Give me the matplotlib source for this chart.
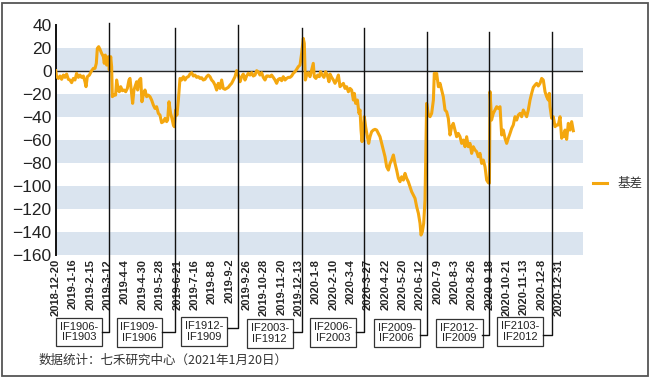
import matplotlib
matplotlib.use("Agg")
import matplotlib.pyplot as plt
import matplotlib.transforms as mtransforms
from matplotlib.patches import Rectangle
from matplotlib.lines import Line2D

plt.rcParams['font.family'] = ['Liberation Sans', 'Noto Sans CJK SC', 'DejaVu Sans']

# ---------------- data ----------------
# trading-day index (0 = 2018-12-20) and basis value
day_idx = [0, 0.9, 2.6, 4.2, 5.8, 7.5, 9.1, 10.7, 12.4, 14.0, 15.6, 17.3, 18.9, 20.5, 22.2, 23.8,
           25.4, 27.1, 28.7, 29.7, 31.0, 33.0, 35.2, 36.9, 38.5, 39.8, 40.8, 42.1, 43.4, 45.0, 46.7,
           47.6, 48.6, 49.9, 51.6, 52.5, 53.9, 54.8, 55.5, 57.1, 58.7, 59.7, 61.4, 62.3, 63.7, 65.3,
           66.9, 68.6, 70.2, 71.8, 72.8, 73.8, 75.4, 76.7, 77.7, 79.3, 80.3, 81.9, 83.3, 84.5, 85.8,
           87.5, 89.1, 90.7, 92.4, 94.0, 95.7, 97.3, 98.9, 100.6, 102.2, 103.8, 105.5, 107.1, 108.7,
           109.7, 111.0, 112.6, 113.9, 115.3, 116.2, 117.5, 118.8, 120.2, 121.8, 123.4, 125.1, 126.7,
           128.3, 130.0, 131.6, 133.2, 134.9, 136.5, 138.1, 139.8, 141.4, 143.0, 144.6, 146.3, 147.9,
           149.5, 151.2, 152.8, 154.4, 156.1, 157.7, 159.3, 161.0, 162.6, 164.2, 165.9, 167.5, 169.1,
           170.8, 172.4, 174.1, 175.7, 177.3, 179.0, 180.6, 182.2, 183.8, 185.5, 187.1, 188.7, 190.4,
           192.0, 193.6, 195.3, 196.9, 198.5, 200.2, 201.8, 203.4, 205.1, 206.7, 208.3, 210.0, 211.6,
           213.2, 214.9, 216.5, 218.1, 219.8, 221.4, 223.0, 224.7, 226.3, 227.9, 229.6, 231.2, 232.8,
           234.5, 236.1, 237.7, 239.4, 241.0, 242.6, 243.6, 244.6, 245.9, 247.5, 249.2, 250.8, 252.4,
           253.4, 255.0, 256.7, 258.3, 259.6, 261.2, 262.9, 264.5, 266.1, 267.8,
           268.8, 270.4, 272.1, 273.7, 275.3, 277.0, 278.6, 280.2, 281.9, 283.5, 285.1, 286.8, 288.4,
           290.0, 291.7, 292.6, 293.9, 295.6, 297.2, 298.2, 299.2, 300.2, 301.5, 302.4, 303.7, 305.4,
           306.7, 308.0, 309.6, 311.3, 312.9, 314.5, 316.2, 317.8, 319.4, 321.1, 322.7, 324.3, 326.0,
           327.6, 329.2, 330.9, 332.5, 334.1, 335.8, 337.4, 339.0, 340.7, 342.3, 343.9, 345.5,
           347.2, 348.8, 350.5, 352.1, 353.7, 355.4, 357.0, 358.0, 359.3, 360.6, 361.9, 362.9, 363.5,
           365.2, 366.8, 368.4, 370.1, 371.0, 372.3, 373.3, 375.0,
           376.6, 378.2, 379.8, 381.5, 383.1, 384.7, 386.4, 388.0, 389.6, 391.3, 392.9, 394.5, 396.2,
           397.8, 399.4, 401.1, 402.7, 404.3, 406.0, 407.6, 409.2, 410.9, 412.5, 414.1, 415.8, 417.4,
           419.0, 420.7, 422.3, 423.9, 425.0, 425.6, 427.1, 428.8, 430.5, 432.1, 433.7, 435.4, 436.3,
           437.0, 438.6, 440.3, 441.9, 443.5, 445.2, 446.8, 448.4, 450.1, 451.7, 453.3, 455.0, 456.6,
           458.2, 459.9, 461.5, 463.1, 464.8, 466.4, 468.0, 469.7, 471.3, 472.9, 474.6, 476.2, 477.8,
           479.5, 481.1, 482.7, 483.7, 484.4, 486.0, 487.6, 489.3, 490.9, 492.5, 494.2, 495.8, 496.8,
           498.1, 499.1, 500.7, 502.3, 504.0, 505.6, 507.2]
basis = [0, -5.2, -6.7, -4.6, -7.5, -3.8, -5.8, -2.9, -7.5, -8.1, -10.4, -6.7, -8.1, -2.3, -5.8, -3.8,
         -5.8, -4.6, -9.6, -13.9, -5.2, -3.8, 0, 2.0, 2.0, 6.4, 19.4, 20.9, 18.6, 15.1, 12.2,
         6.4, 13.6, 4.9, 12.2, 0.6, 12.2, 3.5, -22.6, -21.2, -21.2, -8.1, -16.8, -18.3, -13.9, -17.4,
         -16.8, -18.3, -15.4, -8.1, -6.7, -15.4, -28.4, -16.8, -13.9, -9.6, -16.8, -8.1, -6.7, -27.0, -21.2,
         -16.8, -22.6, -21.2, -22.6, -25.5, -29.9, -32.8, -31.3, -37.1, -38.6, -45.2, -44.3, -41.4, -44.3,
         -42.9, -27.0, -37.1, -41.4, -47.2, -48.7, -34.2, -38.6, -25.5, -6.7, -8.1, -5.2, -8.1,
         -5.8, -5.2, -2.9, -1.7, -4.6, -3.8, -5.8, -5.2, -6.7, -6.1, -8.1, -7.5, -5.2,
         -3.8, -5.2, -8.1, -9.6, -12.5, -16.8, -11.0, -15.4, -8.1, -15.4, -16.2, -15.4, -14.5,
         -12.5, -11.0, -8.1, -5.2, 0, -3.8, -9.6, -5.2, -2.9, -8.1, -4.6, -2.3, -3.8,
         -1.7, -4.6, -3.8, 0, -0.9, -3.8, -1.7, -5.8, -8.1, -4.6, -4.6, -5.2, -3.8,
         -5.8, -8.1, -11.0, -7.5, -6.7, -8.7, -5.2, -8.1, -6.7, -5.8, -5.8, -4.6, -2.3,
         -0.9, 1.2, 3.5, 4.9, 15.1, 28.1, 23.8, -8.1, -3.8, -1.7, -5.2, 0.6, 6.4,
         -5.2, -6.7, -3.8, -5.2, -0.9, -3.8, -5.8, -0.9, -3.8, -9.6,
         -2.9, -5.8, -8.1, -11.0, -8.1, -3.8, -13.9, -12.5, -11.0, -15.4, -13.9, -18.3, -15.4,
         -16.8, -25.5, -19.7, -28.4, -25.5, -37.1, -34.2, -51.6, -61.7, -48.7, -40.0, -48.7, -57.4,
         -63.2, -57.4, -53.0, -51.6, -51.0, -51.6, -54.5, -57.4, -63.2, -69.0, -74.8, -83.5, -86.4,
         -80.6, -77.7, -73.3, -80.6, -86.4, -93.6, -96.5, -92.2, -95.1, -89.3, -93.6, -96.5,
         -100.9, -105.2, -108.1, -111.0, -118.2, -124.0, -132.7, -142.9, -140.0, -132.7, -112.4, -63.2, -28.4,
         -38.5, -40.0, -37.1, -25.5, -2.3, -6.7, -2.3, -13.9,
         -11.0, -16.8, -22.6, -34.2, -35.7, -41.4, -55.9, -48.7, -45.8, -51.6, -57.4, -54.5, -57.4,
         -63.2, -60.3, -66.1, -57.4, -66.1, -63.2, -71.9, -66.1, -69.0, -70.4, -74.8, -71.9, -80.6,
         -77.7, -83.5, -95.1, -97.4, -97.8, -18.2, -42.9, -37.1, -34.2, -31.3, -32.8, -31.3, -45.8,
         -55.9, -51.6, -58.8, -63.2, -58.8, -54.5, -50.1, -47.2, -40.0, -42.9, -38.6, -37.1, -40.0,
         -34.2, -37.1, -40.0, -34.2, -25.5, -19.7, -14.5, -12.5, -11.0, -13.3, -11.0, -6.7, -8.1,
         -18.3, -22.6, -25.5, -19.7, -31.3, -41.4, -40.0, -48.7, -47.2, -47.2, -40.0, -58.8, -54.5,
         -57.4, -51.6, -59.7, -45.8, -51.6, -44.3, -52.2]

tick_labels = ['2018-12-20', '2019-1-16', '2019-2-15', '2019-3-12', '2019-4-4', '2019-4-30',
               '2019-5-28', '2019-6-21', '2019-7-16', '2019-8-8', '2019-9-2', '2019-9-26',
               '2019-10-28', '2019-11-20', '2019-12-13', '2020-1-8', '2020-2-10', '2020-3-4',
               '2020-3-27', '2020-4-22', '2020-5-20', '2020-6-12', '2020-7-9', '2020-8-3',
               '2020-8-26', '2020-9-18', '2020-10-21', '2020-11-13', '2020-12-8', '2020-12-31']
tick_step = 17  # trading days between labels

roll_idx = [52.2, 116.6, 178.3, 241.3, 302.1, 364.2, 424.9, 486.0]
roll_labels = ['IF1906-\nIF1903', 'IF1909-\nIF1906', 'IF1912-\nIF1909', 'IF2003-\nIF1912',
               'IF2006-\nIF2003', 'IF2009-\nIF2006', 'IF2012-\nIF2009', 'IF2103-\nIF2012']

series_name = '基差'
footer = '数据统计：七禾研究中心（2021年1月20日）'

# ---------------- layout ----------------
W, H = 654, 379
fig = plt.figure(figsize=(W / 100, H / 100), dpi=100)
fig.patch.set_facecolor('white')
L, R, T, B = 55.7, 583.3, 24.7, 254.7
ax = fig.add_axes([L / W, 1 - B / H, (R - L) / W, (B - T) / H])

ax.set_ylim(-160, 40)
ax.set_xlim(0, 517)

band_color = '#dae4ef'
for lo in [0, -40, -80, -120, -160]:
    ax.axhspan(lo, lo + 20, color=band_color, lw=0, zorder=0)

ax.axhline(0, color='#262626', lw=1.0, zorder=1)

line_color = '#f4a70f'
ax.plot(day_idx, basis, color=line_color, lw=2.2, solid_joinstyle='round', zorder=3, label=series_name)

for s in ['top', 'right', 'bottom']:
    ax.spines[s].set_visible(False)
ax.spines['left'].set_color('#111111')
ax.spines['left'].set_linewidth(1.4)

ax.set_yticks(range(-160, 41, 20))
ax.tick_params(axis='y', length=0, pad=3, labelsize=12.5, labelcolor='#222222')
ax.set_xticks([i * tick_step for i in range(len(tick_labels))])
ax.set_xticklabels(tick_labels, rotation=90, fontsize=8, fontweight='bold', color='#262626')
ax.tick_params(axis='x', length=0, pad=3)

# roll marker lines and labelled boxes (x in data, y in figure fraction)
blend = mtransforms.blended_transform_factory(ax.transData, fig.transFigure)
px = 1.0206  # pixels per trading day
tops = [23.3, 27.7, 25.0, 27.7, 27.7, 31.7, 31.7, 31.7]
elbows = [331.7, 331.7, 328.3, 331.7, 331.7, 335.3, 335.3, 335.3]
box_cx = [78.9, 139.5, 204.3, 269.8, 333.3, 396.7, 459.5, 520.2]
box_cy = [332.0, 332.7, 331.3, 333.3, 332.5, 333.0, 333.0, 331.7]
box_right = [101.7, 162.3, 227.7, 292.7, 356.0, 420.0, 482.3, 542.7]
for xi, lab, t, e, cx, cy, br in zip(roll_idx, roll_labels, tops, elbows, box_cx, box_cy, box_right):
    bx = (br - L) / px
    ln = Line2D([xi, xi, bx], [1 - t / H, 1 - e / H, 1 - e / H], transform=blend,
                color='#111111', lw=1.0, clip_on=False, zorder=4)
    fig.add_artist(ln)
    fig.text(cx / W, 1 - cy / H, lab, ha='center', va='center', fontsize=8, color='#222222',
             linespacing=1.1, multialignment='center',
             bbox=dict(boxstyle='square,pad=0.35', fc='white', ec='#333333', lw=0.9))

# legend
fig.legend(loc='center left', bbox_to_anchor=(593 / W, 1 - 183.5 / H), frameon=False,
           borderpad=0, borderaxespad=0, handlelength=1.15, handletextpad=0.8,
           prop={'family': ['Noto Sans CJK SC'], 'size': 9}, labelcolor='#333333')

# footer
fig.text(39 / W, 1 - 360.5 / H, footer, ha='left', va='center', fontsize=9, color='#333333',
         family=['Noto Sans CJK SC', 'DejaVu Sans'])

# outer border
fig.add_artist(Rectangle((2 / W, 3.5 / H), 646 / W, 372.5 / H, transform=fig.transFigure,
                         fill=False, ec='#555555', lw=1.3))

fig.savefig('out.png', dpi=100)
